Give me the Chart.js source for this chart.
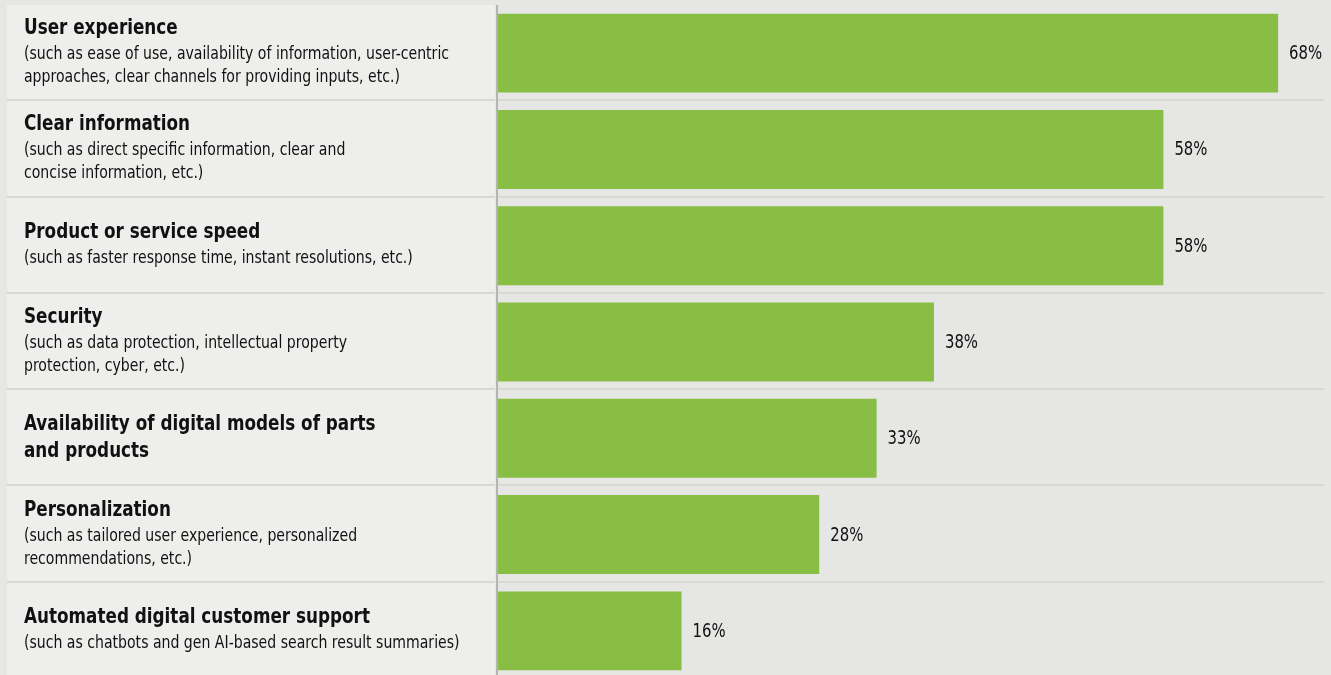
<!DOCTYPE html>
<html>
<head>
<meta charset="utf-8">
<script src="https://cdn.jsdelivr.net/npm/chart.js@4"></script>
<style>
  html, body { margin: 0; padding: 0; background: #e6e6e5; overflow: hidden; }
  #wrap { position: absolute; left: 0; top: 0; width: 1331px; height: 680px; }
</style>
</head>
<body>
<div id="wrap"><canvas id="chart"></canvas></div>
<script>
const titles = [
    ["User experience"],
    ["Clear information"],
    ["Product or service speed"],
    ["Security"],
    ["Availability of digital models of parts", "and products"],
    ["Personalization"],
    ["Automated digital customer support"]
];
const subtitles = [
    ["(such as ease of use, availability of information, user-centric", "approaches, clear channels for providing inputs, etc.)"],
    ["(such as direct specific information, clear and", "concise information, etc.)"],
    ["(such as faster response time, instant resolutions, etc.)"],
    ["(such as data protection, intellectual property", "protection, cyber, etc.)"],
    [],
    ["(such as tailored user experience, personalized", "recommendations, etc.)"],
    ["(such as chatbots and gen AI-based search result summaries)"]
];
const values = [68, 58, 58, 38, 33, 28, 16];

const FONT = '"DejaVu Sans Condensed", "Liberation Sans Narrow", sans-serif';

// draw text squeezed horizontally, the reference uses a narrow face
function narrowText(ctx, s, x, y, k) {
    ctx.save();
    ctx.translate(x, y);
    ctx.scale(k, 1);
    ctx.fillText(s, 0, 0);
    ctx.restore();
}

const panelPlugin = {
    id: "panel",
    beforeDraw(chart) {
        const { ctx, chartArea, scales } = chart;
        const y = scales.y;
        const step = (chartArea.bottom - chartArea.top) / values.length;
        ctx.save();
        ctx.fillStyle = "#e6e6e5";
        ctx.fillRect(0, 0, chart.width, chart.height);
        // left label panel
        ctx.fillStyle = "#eeeeed";
        ctx.fillRect(7, chartArea.top, chartArea.left - 10, chart.height);
        // row separators
        ctx.fillStyle = "#d8d8d7";
        for (let i = 1; i < values.length; i++) {
            const sy = Math.round(y.getPixelForValue(i) - step / 2 - 2);
            ctx.fillRect(7, sy, chartArea.left - 10, 2);
            ctx.fillRect(chartArea.left, sy, chartArea.right - chartArea.left, 2);
        }
        // divider
        ctx.fillStyle = "#b4b4b3";
        ctx.fillRect(chartArea.left - 2, chartArea.top, 2, chart.height);
        ctx.restore();
    },
    afterDatasetsDraw(chart) {
        const { ctx, scales } = chart;
        const y = scales.y;
        const meta = chart.getDatasetMeta(0);
        ctx.save();
        ctx.fillStyle = "#111111";
        ctx.textAlign = "left";
        titles.forEach((t, i) => {
            const cy = y.getPixelForValue(i);
            const lines = [];
            t.forEach((s, k) => lines.push({ s, bold: true, gap: k === 0 ? 0 : 27 }));
            subtitles[i].forEach((s, k) => lines.push({ s, bold: false, gap: k === 0 ? 25 : 23 }));
            let total = 0;
            lines.forEach(l => total += l.gap);
            const h = 15 + total + 5;
            let base = cy - h / 2 + 15;
            ctx.textBaseline = "alphabetic";
            lines.forEach((l, k) => {
                base += k === 0 ? 0 : l.gap;
                if (l.bold) {
                    ctx.font = "bold 21px " + FONT;
                    narrowText(ctx, l.s, 24, base, 0.89);
                } else {
                    ctx.font = "17px " + FONT;
                    narrowText(ctx, l.s, 24, base, 0.92);
                }
            });
            // value label
            const bar = meta.data[i];
            ctx.font = "19px " + FONT;
            ctx.textBaseline = "middle";
            narrowText(ctx, values[i] + "%", bar.x + 11, bar.y + 1, 0.87);
        });
        ctx.restore();
    }
};

new Chart(document.getElementById("chart"), {
    type: "bar",
    data: {
        labels: titles.map(t => t.join(" ")),
        datasets: [{
            data: values,
            backgroundColor: "#88be43",
            borderWidth: 0,
            categoryPercentage: 1,
            barPercentage: 0.82
        }]
    },
    options: {
        indexAxis: "y",
        responsive: true,
        maintainAspectRatio: false,
        animation: false,
        layout: { padding: { left: 498, right: 7, top: 5, bottom: 1 } },
        plugins: {
            legend: { display: false },
            tooltip: { enabled: false }
        },
        scales: {
            x: { display: false, min: 0, max: 72 },
            y: { display: false }
        }
    },
    plugins: [panelPlugin]
});
</script>
</body>
</html>
